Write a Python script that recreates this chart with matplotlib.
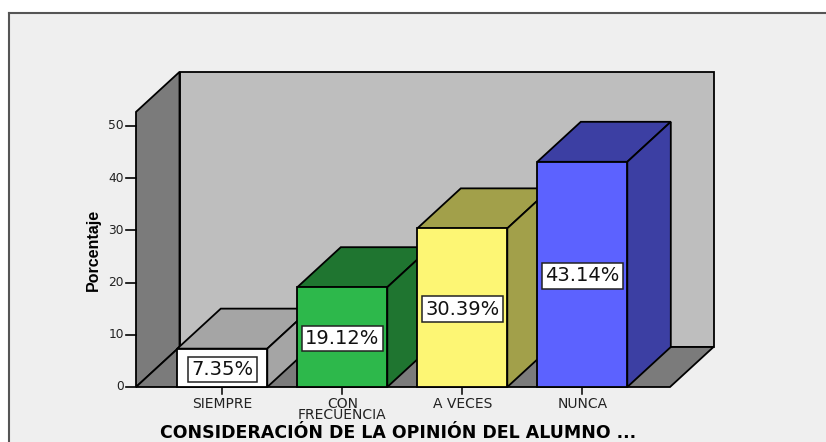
import matplotlib
matplotlib.use('Agg')
import matplotlib.pyplot as plt
from matplotlib.patches import Polygon

categories = ['SIEMPRE', 'CON\nFRECUENCIA', 'A VECES', 'NUNCA']
values = [7.35, 19.12, 30.39, 43.14]
value_labels = ['7.35%', '19.12%', '30.39%', '43.14%']
yticks = [0, 10, 20, 30, 40, 50]
front_colors = ['#FFFFFF', '#2DB84B', '#FDF674', '#5C62FF']
top_colors = ['#A5A5A5', '#1F7530', '#A2A04A', '#3C3FA3']

# the reference text is horizontally stretched Arial, DejaVu has about the same proportions
plt.rcParams['font.family'] = ['DejaVu Sans']

W, H = 826, 442
y0_px = 387.0       # pixel row of value 0
px_per_unit = 5.22
top_val = 52.7
depth_x = 43.5
depth_y = 40 / px_per_unit
left_x = 136.0
right_x = 670.0
bar_x0 = 177.3
bar_step = 120.0
bar_w = 90.0

fig = plt.figure(figsize=(W / 100, H / 100), dpi=100, facecolor='white')

# grey panel, only its left and top border are inside the picture
panel = fig.add_axes([8.5 / W, 0, 1 - 8.5 / W, 1 - 13 / H], facecolor='#EFEFEF')
panel.set_xticks([])
panel.set_yticks([])
for name, sp in panel.spines.items():
    sp.set_visible(name in ('left', 'top'))
    sp.set_color('#555555')
    sp.set_linewidth(1.5)

ax = fig.add_axes([0, 0, 1, 1])
ax.patch.set_visible(False)
ax.axis('off')
ax.set_xlim(0, W)
ax.set_ylim((y0_px - H) / px_per_unit, y0_px / px_per_unit)


def face(pts, color, z=1):
    ax.add_patch(Polygon(pts, closed=True, fc=color, ec='black', lw=1.3,
                         joinstyle='miter', zorder=z))


# back wall, left wall, floor
face([(left_x + depth_x, depth_y), (right_x + depth_x, depth_y),
      (right_x + depth_x, top_val + depth_y), (left_x + depth_x, top_val + depth_y)], '#BEBEBE')
face([(left_x, 0), (left_x + depth_x, depth_y),
      (left_x + depth_x, top_val + depth_y), (left_x, top_val)], '#7B7B7B')
face([(left_x, 0), (right_x, 0), (right_x + depth_x, depth_y), (left_x + depth_x, depth_y)], '#7B7B7B')

# bars, left to right so the next front covers the previous side
for i, v in enumerate(values):
    x0 = bar_x0 + i * bar_step
    x1 = x0 + bar_w
    z = 2 + i
    face([(x0, v), (x1, v), (x1 + depth_x, v + depth_y), (x0 + depth_x, v + depth_y)], top_colors[i], z)
    face([(x1, 0), (x1 + depth_x, depth_y), (x1 + depth_x, v + depth_y), (x1, v)], top_colors[i], z)
    face([(x0, 0), (x1, 0), (x1, v), (x0, v)], front_colors[i], z)
    ax.text((x0 + x1) / 2, v / 2 - 1.5 / px_per_unit, value_labels[i], ha='center', va='center',
            fontsize=14, color='#111111', zorder=20,
            bbox=dict(boxstyle='square,pad=0.17', fc='white', ec='#222222', lw=1.1))
    # tick and category label
    xc = (x0 + x1) / 2
    ax.plot([xc, xc], [0, -7 / px_per_unit], color='black', lw=1.1, zorder=1)
    ax.text(xc, -10 / px_per_unit, categories[i], ha='center', va='top', fontsize=10,
            color='#222222', linespacing=0.72)

for t in yticks:
    ax.plot([left_x - 10, left_x], [t, t], color='black', lw=1.2, zorder=1)
    ax.text(left_x - 12, t, str(t), ha='right', va='center', fontsize=8.8, color='#222222')

ax.text(93, 26.2, 'Porcentaje', rotation=90, ha='center', va='center',
        family='Liberation Sans', fontsize=11.5, fontweight='bold', color='black')
ax.text(398, -46 / px_per_unit, 'CONSIDERACIÓN DE LA OPINIÓN DEL ALUMNO ...', ha='center',
        va='center', fontsize=12.5, fontweight='bold', color='black')

fig.savefig('out.png', dpi=100)
